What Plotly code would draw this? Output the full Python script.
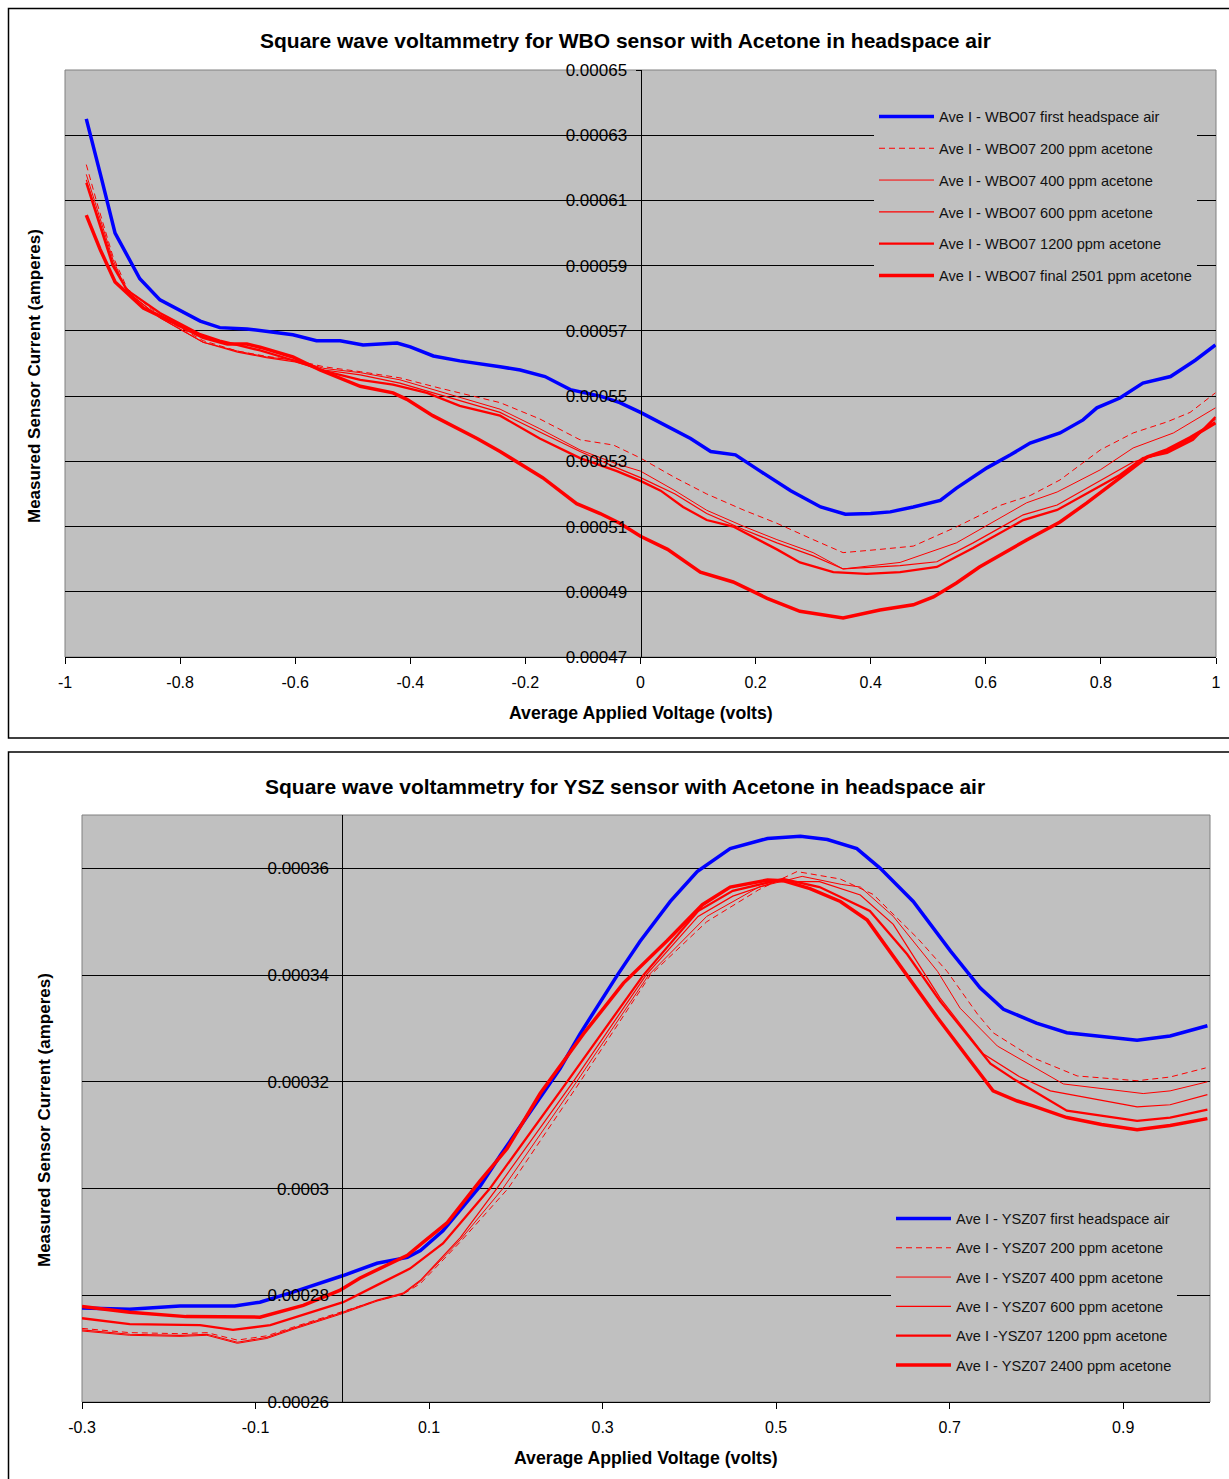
import plotly.graph_objects as go

# ---------------- Top chart (WBO sensor) data ----------------
wbo_air_x = [-0.963, -0.95, -0.936, -0.913, -0.87, -0.835, -0.765, -0.731, -0.684, -0.604, -0.563, -0.522, -0.482,
             -0.423, -0.4, -0.36, -0.314, -0.244, -0.209, -0.166, -0.122, -0.07, -0.036, 0.0, 0.043, 0.087,
             0.122, 0.165, 0.208, 0.261, 0.313, 0.356, 0.4, 0.434, 0.474, 0.521, 0.549, 0.602, 0.643, 0.677,
             0.729, 0.769, 0.793, 0.833, 0.873, 0.921, 0.964, 0.999]
wbo_air_y = [0.000635, 0.0006255, 0.0006163, 0.0006, 0.000586, 0.0005795, 0.000573, 0.000571, 0.0005706, 0.0005688,
             0.000567, 0.000567, 0.0005657, 0.0005663, 0.0005651, 0.0005623, 0.0005608, 0.000559, 0.000558,
             0.000556, 0.000552, 0.00055, 0.000548, 0.000545, 0.000541, 0.000537, 0.000533, 0.000532, 0.000527,
             0.000521, 0.000516, 0.0005138, 0.000514, 0.0005145, 0.000516, 0.000518, 0.0005218, 0.000528,
             0.000532, 0.0005356, 0.0005387, 0.0005427, 0.0005464, 0.0005494, 0.000554, 0.000556, 0.000561,
             0.0005657]

wbo_200_x = [-0.963, -0.944, -0.917, -0.892, -0.835, -0.76, -0.7, -0.65, -0.6, -0.55, -0.487, -0.418, -0.35,
             -0.244, -0.175, -0.105, -0.047, 0.0, 0.06, 0.115, 0.18, 0.237, 0.3, 0.352, 0.416, 0.474, 0.549,
             0.625, 0.677, 0.729, 0.799, 0.856, 0.915, 0.955, 0.999]
wbo_200_y = [0.000621, 0.000609, 0.000593, 0.000583, 0.0005745, 0.000567, 0.0005638, 0.0005622, 0.000561,
             0.000559, 0.0005575, 0.0005556, 0.0005525, 0.000548, 0.000543, 0.0005366, 0.000535, 0.000531,
             0.000525, 0.00052, 0.000515, 0.000511, 0.000506, 0.000502, 0.000503, 0.000504, 0.0005099,
             0.0005165, 0.0005195, 0.0005243, 0.0005335, 0.0005387, 0.0005421, 0.000545, 0.000551]

wbo_400_x = [-0.963, -0.944, -0.917, -0.892, -0.835, -0.76, -0.7, -0.65, -0.6, -0.55, -0.487, -0.418, -0.35,
             -0.244, -0.175, -0.105, -0.041, 0.0, 0.06, 0.115, 0.18, 0.237, 0.3, 0.352, 0.451, 0.549, 0.671,
             0.724, 0.799, 0.856, 0.926, 0.999]
wbo_400_y = [0.000618, 0.000607, 0.000592, 0.000582, 0.000574, 0.0005665, 0.0005638, 0.000562, 0.000561,
             0.0005585, 0.0005572, 0.000555, 0.0005515, 0.000546, 0.00054, 0.0005335, 0.0005292, 0.000527,
             0.000521, 0.000515, 0.00051, 0.000506, 0.000502, 0.000497, 0.000499, 0.000505, 0.0005173,
             0.0005206, 0.0005274, 0.0005341, 0.0005387, 0.0005464]

wbo_600_x = [-0.963, -0.944, -0.917, -0.892, -0.835, -0.76, -0.7, -0.65, -0.6, -0.55, -0.487, -0.418, -0.35,
             -0.244, -0.175, -0.105, -0.041, 0.0, 0.06, 0.115, 0.18, 0.237, 0.3, 0.352, 0.451, 0.515, 0.578,
             0.665, 0.724, 0.786, 0.856, 0.915, 0.96, 0.999]
wbo_600_y = [0.0006163, 0.000606, 0.000591, 0.000582, 0.000574, 0.0005665, 0.0005635, 0.0005618, 0.0005605,
             0.000558, 0.0005565, 0.000554, 0.0005505, 0.000545, 0.000539, 0.000533, 0.000528, 0.000525,
             0.00052, 0.000514, 0.000509, 0.000505, 0.000501, 0.000497, 0.000498, 0.0004992, 0.000505,
             0.0005136, 0.0005166, 0.0005228, 0.0005298, 0.0005329, 0.000537, 0.000543]

wbo_1200_x = [-0.963, -0.944, -0.917, -0.892, -0.835, -0.765, -0.731, -0.661, -0.604, -0.545, -0.487, -0.43,
              -0.371, -0.314, -0.244, -0.175, -0.105, -0.041, 0.0, 0.035, 0.074, 0.115, 0.161, 0.237, 0.277,
              0.335, 0.393, 0.451, 0.515, 0.578, 0.665, 0.724, 0.786, 0.833, 0.873, 0.915, 0.96, 0.999]
wbo_1200_y = [0.0006154, 0.000605, 0.00059, 0.0005825, 0.0005755, 0.000569, 0.000567, 0.000564, 0.000561,
              0.0005575, 0.000555, 0.0005535, 0.000551, 0.000547, 0.000544, 0.000537, 0.000531, 0.000527,
              0.000524, 0.000521, 0.000516, 0.000512, 0.00051, 0.000503, 0.000499, 0.000496, 0.0004955,
              0.000496, 0.0004976, 0.0005034, 0.000512, 0.0005151, 0.0005212, 0.0005258, 0.000531, 0.0005326,
              0.0005366, 0.0005436]

wbo_2501_x = [-0.963, -0.939, -0.913, -0.864, -0.805, -0.76, -0.718, -0.684, -0.661, -0.604, -0.557, -0.487,
              -0.43, -0.406, -0.361, -0.284, -0.244, -0.17, -0.111, -0.07, -0.036, 0.0, 0.047, 0.104, 0.161,
              0.22, 0.277, 0.352, 0.416, 0.474, 0.509, 0.549, 0.589, 0.671, 0.729, 0.775, 0.833, 0.88, 0.915,
              0.955, 0.999]
wbo_2501_y = [0.0006055, 0.000595, 0.000585, 0.000577, 0.000572, 0.000568, 0.000566, 0.000566, 0.000565,
              0.000562, 0.000558, 0.000553, 0.000551, 0.000549, 0.000544, 0.000537, 0.000533, 0.000525,
              0.000517, 0.000514, 0.000511, 0.000507, 0.000503, 0.000496, 0.000493, 0.000488, 0.000484,
              0.000482, 0.0004844, 0.000486, 0.0004884, 0.0004927, 0.0004976, 0.0005059, 0.0005114, 0.0005172,
              0.0005249, 0.0005313, 0.0005335, 0.0005372, 0.0005418]

# ---------------- Bottom chart (YSZ sensor) data ----------------
ysz_air_x = [-0.3, -0.245, -0.187, -0.124, -0.095, -0.057, 0.001, 0.04, 0.075, 0.09, 0.116, 0.159, 0.182, 0.225,
             0.251, 0.274, 0.297, 0.317, 0.343, 0.378, 0.409, 0.447, 0.49, 0.528, 0.559, 0.593, 0.62, 0.658,
             0.701, 0.735, 0.762, 0.8, 0.835, 0.877, 0.916, 0.954, 0.997]
ysz_air_y = [0.0002776, 0.0002774, 0.000278, 0.000278, 0.0002787, 0.0002806, 0.0002837, 0.000286, 0.0002871,
             0.0002884, 0.0002921, 0.0003005, 0.0003062, 0.0003165, 0.0003225, 0.000329, 0.000335, 0.00034,
             0.0003463, 0.0003538, 0.0003594, 0.0003637, 0.0003656, 0.000366, 0.0003654, 0.0003637, 0.00036,
             0.0003538, 0.0003445, 0.0003376, 0.0003336, 0.000331, 0.0003292, 0.0003284, 0.0003278, 0.0003286,
             0.0003305]

ysz_200_x = [-0.3, -0.245, -0.187, -0.156, -0.121, -0.087, -0.057, -0.003, 0.04, 0.07, 0.09, 0.136, 0.191,
             0.274, 0.355, 0.42, 0.48, 0.524, 0.574, 0.612, 0.663, 0.697, 0.732, 0.75, 0.796, 0.847, 0.916,
             0.954, 0.995]
ysz_200_y = [0.0002738, 0.000273, 0.0002728, 0.000273, 0.0002716, 0.0002724, 0.000274, 0.0002768, 0.000279,
             0.0002802, 0.0002822, 0.00029, 0.0003, 0.00032, 0.00034, 0.00035, 0.000356, 0.0003594, 0.000358,
             0.0003551, 0.0003469, 0.0003407, 0.0003327, 0.0003292, 0.0003245, 0.0003211, 0.0003202,
             0.0003209, 0.0003226]

ysz_400_x = [-0.3, -0.245, -0.187, -0.156, -0.121, -0.087, -0.057, -0.003, 0.04, 0.07, 0.09, 0.136, 0.185,
             0.27, 0.353, 0.42, 0.48, 0.53, 0.575, 0.597, 0.635, 0.686, 0.712, 0.755, 0.831, 0.923, 0.954, 0.997]
ysz_400_y = [0.0002733, 0.0002725, 0.0002723, 0.0002725, 0.000271, 0.0002719, 0.0002736, 0.0002764,
             0.0002789, 0.0002802, 0.0002826, 0.0002904, 0.0003, 0.00032, 0.00034, 0.000351, 0.0003565,
             0.0003585, 0.000357, 0.0003565, 0.000351, 0.0003407, 0.0003338, 0.0003267, 0.0003196, 0.0003178,
             0.0003183, 0.00032]

ysz_600_x = [-0.3, -0.245, -0.187, -0.156, -0.121, -0.087, -0.057, -0.003, 0.04, 0.07, 0.09, 0.136, 0.178,
             0.266, 0.35, 0.41, 0.45, 0.5, 0.55, 0.597, 0.635, 0.689, 0.739, 0.78, 0.816, 0.916, 0.954, 0.997]
ysz_600_y = [0.0002735, 0.0002727, 0.0002725, 0.0002727, 0.0002712, 0.0002721, 0.0002738, 0.0002766,
             0.0002791, 0.0002804, 0.0002828, 0.0002908, 0.0003, 0.00032, 0.00034, 0.000351, 0.0003548,
             0.0003575, 0.0003575, 0.000355, 0.0003495, 0.0003357, 0.0003252, 0.000321, 0.0003183, 0.0003153,
             0.0003157, 0.0003176]

ysz_1200_x = [-0.3, -0.245, -0.164, -0.126, -0.083, 0.001, 0.04, 0.078, 0.116, 0.17, 0.259, 0.347, 0.41, 0.45,
              0.508, 0.55, 0.608, 0.651, 0.689, 0.747, 0.773, 0.835, 0.916, 0.954, 0.997]
ysz_1200_y = [0.0002757, 0.0002746, 0.0002744, 0.0002735, 0.0002744, 0.0002787, 0.0002819, 0.000285,
              0.0002897, 0.0003, 0.00032, 0.00034, 0.000352, 0.0003558, 0.000358, 0.0003565, 0.000352,
              0.0003439, 0.0003351, 0.0003234, 0.0003206, 0.0003146, 0.0003127, 0.0003133, 0.0003148]

ysz_2400_x = [-0.3, -0.245, -0.18, -0.124, -0.095, -0.045, -0.003, 0.02, 0.059, 0.075, 0.093, 0.121, 0.159,
              0.19, 0.228, 0.278, 0.324, 0.374, 0.415, 0.447, 0.49, 0.508, 0.539, 0.574, 0.605, 0.643, 0.686,
              0.72, 0.75, 0.778, 0.796, 0.835, 0.875, 0.916, 0.954, 0.997]
ysz_2400_y = [0.0002779, 0.0002768, 0.000276, 0.0002759, 0.0002759, 0.0002781, 0.0002809, 0.0002832,
              0.0002862, 0.0002875, 0.0002899, 0.0002936, 0.0003015, 0.0003075, 0.0003178, 0.000329,
              0.0003385, 0.0003464, 0.0003532, 0.0003565, 0.0003578, 0.0003577, 0.0003562, 0.0003538,
              0.0003503, 0.0003418, 0.000332, 0.0003247, 0.0003183, 0.0003164, 0.0003155, 0.0003133, 0.000312,
              0.000311, 0.0003118, 0.0003131]

# ---------------- Labels / ticks ----------------
top_title = "Square wave voltammetry for WBO sensor with Acetone in headspace air"
bottom_title = "Square wave voltammetry for YSZ sensor with Acetone in headspace air"
x_title = "Average Applied Voltage (volts)"
y_title = "Measured Sensor Current (amperes)"

top_xtick_vals = [-1, -0.8, -0.6, -0.4, -0.2, 0, 0.2, 0.4, 0.6, 0.8, 1]
top_xtick_text = ["-1", "-0.8", "-0.6", "-0.4", "-0.2", "0", "0.2", "0.4", "0.6", "0.8", "1"]
bot_xtick_vals = [-0.3, -0.1, 0.1, 0.3, 0.5, 0.7, 0.9]
bot_xtick_text = ["-0.3", "-0.1", "0.1", "0.3", "0.5", "0.7", "0.9"]

top_names = ["Ave I - WBO07 first headspace air", "Ave I - WBO07 200 ppm acetone",
             "Ave I - WBO07 400 ppm acetone", "Ave I - WBO07 600 ppm acetone",
             "Ave I - WBO07 1200 ppm acetone", "Ave I - WBO07 final 2501 ppm acetone"]
bot_names = ["Ave I - YSZ07 first headspace air", "Ave I - YSZ07 200 ppm acetone",
             "Ave I - YSZ07 400 ppm acetone", "Ave I - YSZ07 600 ppm acetone",
             "Ave I -YSZ07 1200 ppm acetone", "Ave I - YSZ07 2400 ppm acetone"]

W, H = 1229, 1479
FONT = "Liberation Sans, Arial, Helvetica, sans-serif"


def fx(p):
    return p / W


def fy(p):
    return 1 - p / H


styles = [
    dict(color="#0000FF", width=3.5, dash="solid"),
    dict(color="#FF0000", width=1, dash="6px,4px"),
    dict(color="#FF0000", width=1, dash="solid"),
    dict(color="#FF0000", width=1.2, dash="solid"),
    dict(color="#FF0000", width=2.3, dash="solid"),
    dict(color="#FF0000", width=3.5, dash="solid"),
]

fig = go.Figure()

top_series = [(wbo_air_x, wbo_air_y), (wbo_200_x, wbo_200_y), (wbo_400_x, wbo_400_y),
              (wbo_600_x, wbo_600_y), (wbo_1200_x, wbo_1200_y), (wbo_2501_x, wbo_2501_y)]
bot_series = [(ysz_air_x, ysz_air_y), (ysz_200_x, ysz_200_y), (ysz_400_x, ysz_400_y),
              (ysz_600_x, ysz_600_y), (ysz_1200_x, ysz_1200_y), (ysz_2400_x, ysz_2400_y)]

for i, ((xs, ys), name) in enumerate(zip(top_series, top_names)):
    fig.add_trace(go.Scatter(x=xs, y=ys, mode="lines", name=name, line=styles[i],
                             xaxis="x", yaxis="y", legend="legend", legendgroup=f"t{i}"))
for i, ((xs, ys), name) in enumerate(zip(bot_series, bot_names)):
    fig.add_trace(go.Scatter(x=xs, y=ys, mode="lines", name=name, line=styles[i],
                             xaxis="x2", yaxis="y2", legend="legend2", legendgroup=f"b{i}"))

# top plot area: x 65..1216, y 70..657 (pixels); bottom: x 82..1210, y 815..1402
top_x0, top_x1, top_y0, top_y1 = 65, 1216, 70, 657
bot_x0, bot_x1, bot_y0, bot_y1 = 82, 1210, 815, 1402
top_zero_px = top_x0 + (top_x1 - top_x0) * 0.5
bot_zero_px = bot_x0 + (bot_x1 - bot_x0) * (0.3 / 1.3)

common_x = dict(ticks="outside", ticklen=6, tickcolor="black", showline=True, linecolor="black",
                linewidth=1, showgrid=False, zeroline=False, automargin=False,
                tickfont=dict(family=FONT, size=16, color="black"), ticklabelstandoff=5)
common_y = dict(side="left", tickformat=".5~f", tickfont=dict(family=FONT, size=17, color="black"),
                ticks="outside", ticklen=5, tickcolor="black", showline=True, linecolor="black",
                linewidth=1, showgrid=True, gridcolor="black", gridwidth=1, zeroline=False,
                automargin=False, ticklabelstandoff=5)

legend_font = dict(family=FONT, size=14.6, color="#111111")

fig.update_layout(
    width=W, height=H,
    margin=dict(l=0, r=0, t=0, b=0, pad=0, autoexpand=False),
    paper_bgcolor="white",
    plot_bgcolor="#C0C0C0",
    font=dict(family=FONT, color="black"),
    showlegend=True,
    xaxis=dict(domain=[fx(top_x0), fx(top_x1)], range=[-1, 1], anchor="y",
               tickvals=top_xtick_vals, ticktext=top_xtick_text, **common_x),
    yaxis=dict(domain=[fy(top_y1), fy(top_y0)], range=[0.00047, 0.00065], anchor="free",
               position=fx(top_zero_px), tick0=0.00047, dtick=0.00002, **common_y),
    xaxis2=dict(domain=[fx(bot_x0), fx(bot_x1)], range=[-0.3, 1.0], anchor="y2",
                tickvals=bot_xtick_vals, ticktext=bot_xtick_text, **common_x),
    yaxis2=dict(domain=[fy(bot_y1), fy(bot_y0)], range=[0.00026, 0.00037], anchor="free",
                position=fx(bot_zero_px), tick0=0.00026, dtick=0.00002, **common_y),
    legend=dict(x=fx(874), y=fy(100.5), xanchor="left", yanchor="top", bgcolor="#C0C0C0",
                borderwidth=0, font=legend_font, itemwidth=55,
                traceorder="grouped", tracegroupgap=9.8),
    legend2=dict(x=fx(891), y=fy(1202.5), xanchor="left", yanchor="top", bgcolor="#C0C0C0",
                 borderwidth=0, font=legend_font, itemwidth=55,
                 traceorder="grouped", tracegroupgap=7.3),
)

annotations = [
    dict(text=top_title, x=fx(625), y=fy(41), size=21),
    dict(text=bottom_title, x=fx(625), y=fy(786), size=21),
    dict(text=x_title, x=fx(641), y=fy(713), size=17.7),
    dict(text=x_title, x=fx(646), y=fy(1458), size=17.7),
    dict(text=y_title, x=fx(34), y=fy(376), size=17, textangle=-90),
    dict(text=y_title, x=fx(44), y=fy(1120), size=17, textangle=-90),
]
ann_list = []
for a in annotations:
    ann_list.append(dict(text="<b>" + a["text"] + "</b>", x=a["x"], y=a["y"], xref="paper", yref="paper",
                         showarrow=False, textangle=a.get("textangle", 0),
                         font=dict(family=FONT, size=a["size"], color="black"),
                         xanchor="center", yanchor="middle"))
fig.update_layout(annotations=ann_list)

shapes = [
    # outer chart frames
    dict(type="rect", xref="paper", yref="paper", x0=fx(8.5), x1=fx(1240), y0=fy(738), y1=fy(8.5),
         line=dict(color="black", width=1.5), fillcolor="rgba(0,0,0,0)", layer="below"),
    dict(type="rect", xref="paper", yref="paper", x0=fx(8.5), x1=fx(1240), y0=fy(1490), y1=fy(752),
         line=dict(color="black", width=1.5), fillcolor="rgba(0,0,0,0)", layer="below"),
    # plot-area borders
    dict(type="rect", xref="x domain", yref="y domain", x0=0, x1=1, y0=0, y1=1,
         line=dict(color="#808080", width=1), layer="below"),
    dict(type="rect", xref="x2 domain", yref="y2 domain", x0=0, x1=1, y0=0, y1=1,
         line=dict(color="#808080", width=1), layer="below"),
]
fig.update_layout(shapes=shapes)

fig.write_html("out.html", config={"displayModeBar": False},
               post_script="document.body.style.margin='0';document.body.style.overflow='hidden';")
